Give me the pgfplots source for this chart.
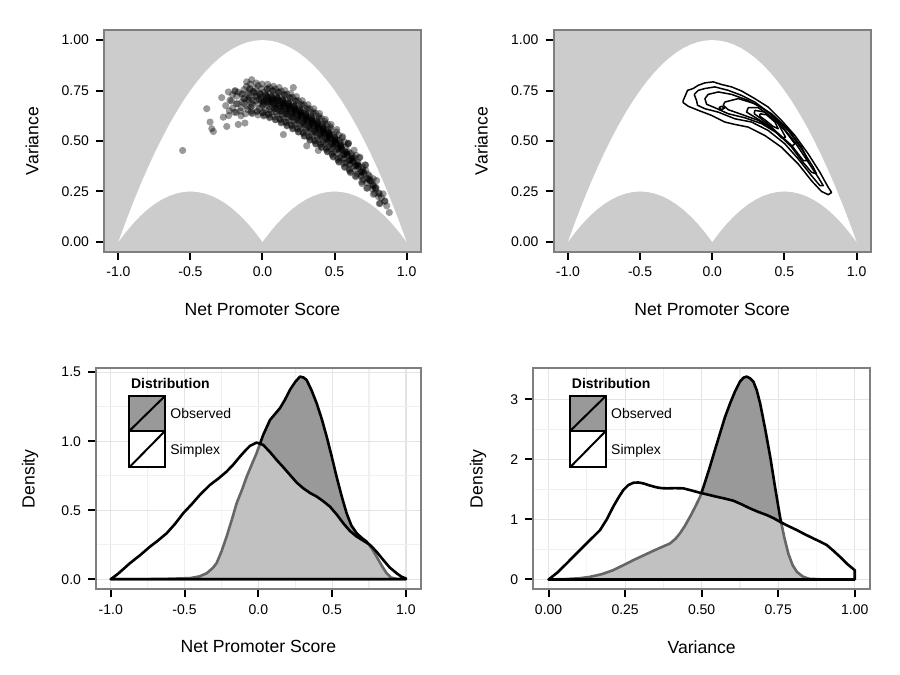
\documentclass[border=0pt]{standalone}
\usepackage{fontspec}
\setmainfont{Liberation Sans}
\usepackage{pgfplots}
\pgfplotsset{compat=1.18}
\definecolor{panelgray}{HTML}{CCCCCC}
\definecolor{bordergray}{HTML}{7F7F7F}
\definecolor{obsfill}{HTML}{999999}
\definecolor{gridmaj}{HTML}{E4E4E4}
\definecolor{gridmin}{HTML}{F0F0F0}
\pgfplotsset{
 myaxis/.style={
  scale only axis, anchor=south west,
  axis line style={draw=bordergray, line width=1pt},
  tick align=outside, tick pos=left,
  major tick length=4pt, minor tick length=0pt,
  every tick/.style={black, line width=1pt},
  tick label style={font=\fontsize{7}{8}\selectfont, text=black},
  label style={font=\fontsize{8.8}{10}\selectfont},
 },
 toppanel/.style={
  myaxis, width=158.5pt, height=111pt,
  xmin=-1.1, xmax=1.1, ymin=-0.05, ymax=1.05,
  axis background/.style={fill=panelgray},
  xtick={-1,-0.5,0,0.5,1}, xticklabels={-1.0,-0.5,0.0,0.5,1.0},
  ytick={0,0.25,0.5,0.75,1}, yticklabels={0.00,0.25,0.50,0.75,1.00},
  xlabel={Net Promoter Score}, ylabel={Variance},
  xlabel style={at={(axis description cs:0.5,-0.261)}, anchor=center},
  ylabel style={at={(axis description cs:-0.227,0.5)}, anchor=center},
 },
 botpanel/.style={
  myaxis, height=110.5pt,
  grid=both, major grid style={gridmaj, line width=0.6pt},
  minor grid style={gridmin, line width=0.6pt},
  minor tick num=1,
  ylabel={Density},
  xlabel style={at={(axis description cs:0.5,-0.261)}, anchor=center},
 },
 simplexregion/.style={fill=white, draw=none},
 dots/.style={only marks, mark=*, mark size=1.8pt, mark options={fill=black, fill opacity=0.4, draw opacity=0, line width=0pt}},
}
\newcommand{\simplexshape}{%
\addplot[simplexregion] coordinates {
(-1,0) (-0.95,0.0975) (-0.9,0.19) (-0.85,0.2775) (-0.8,0.36) (-0.75,0.4375) (-0.7,0.51) (-0.65,0.5775) (-0.6,0.64) (-0.55,0.6975) (-0.5,0.75) (-0.45,0.7975) (-0.4,0.84) (-0.35,0.8775) (-0.3,0.91) (-0.25,0.9375) (-0.2,0.96) (-0.15,0.9775) (-0.1,0.99) (-0.05,0.9975) (0,1) (0.05,0.9975) (0.1,0.99) (0.15,0.9775) (0.2,0.96) (0.25,0.9375) (0.3,0.91) (0.35,0.8775) (0.4,0.84) (0.45,0.7975) (0.5,0.75) (0.55,0.6975) (0.6,0.64) (0.65,0.5775) (0.7,0.51) (0.75,0.4375) (0.8,0.36) (0.85,0.2775) (0.9,0.19) (0.95,0.0975) (1,0)
(0.95,0.0475) (0.9,0.09) (0.85,0.1275) (0.8,0.16) (0.75,0.1875) (0.7,0.21) (0.65,0.2275) (0.6,0.24) (0.55,0.2475) (0.5,0.25) (0.45,0.2475) (0.4,0.24) (0.35,0.2275) (0.3,0.21) (0.25,0.1875) (0.2,0.16) (0.15,0.1275) (0.1,0.09) (0.05,0.0475) (0,0)
(-0.05,0.0475) (-0.1,0.09) (-0.15,0.1275) (-0.2,0.16) (-0.25,0.1875) (-0.3,0.21) (-0.35,0.2275) (-0.4,0.24) (-0.45,0.2475) (-0.5,0.25) (-0.55,0.2475) (-0.6,0.24) (-0.65,0.2275) (-0.7,0.21) (-0.75,0.1875) (-0.8,0.16) (-0.85,0.1275) (-0.9,0.09) (-0.95,0.0475) (-1,0)
};}
\begin{document}
\begin{tikzpicture}
\path[use as bounding box] (0,0) rectangle (450pt,337.5pt);
% ---------------- top left: scatter
\begin{axis}[toppanel, at={(52pt,211.5pt)}]
\simplexshape
\addplot[dots] coordinates {
(-0.230,0.650) (-0.255,0.675) (-0.235,0.626)
(-0.215,0.698) (-0.195,0.642) (-0.182,0.684) (-0.208,0.729)
(-0.155,0.649) (-0.142,0.694) (-0.168,0.742) (-0.147,0.665) (-0.179,0.722)
(-0.102,0.705) (-0.128,0.755) (-0.107,0.673) (-0.139,0.734) (-0.118,0.635) (-0.132,0.711)
(-0.088,0.760) (-0.067,0.678) (-0.099,0.739) (-0.078,0.640) (-0.092,0.716) (-0.064,0.701) (-0.084,0.782)
(-0.027,0.683) (-0.059,0.744) (-0.038,0.645) (-0.052,0.721) (-0.024,0.706) (-0.044,0.787) (-0.031,0.629) (-0.057,0.737)
(-0.019,0.739) (0.002,0.640) (-0.012,0.716) (0.016,0.701) (-0.004,0.782) (0.009,0.624) (-0.017,0.732) (0.007,0.687) (0.010,0.692)
(0.042,0.632) (0.028,0.711) (0.056,0.695) (0.036,0.781) (0.049,0.615) (0.023,0.729) (0.047,0.681) (0.050,0.686) (0.025,0.721) (0.045,0.654) (0.058,0.705) (0.032,0.758)
(0.068,0.701) (0.096,0.685) (0.076,0.771) (0.089,0.605) (0.063,0.719) (0.087,0.671) (0.090,0.676) (0.065,0.711) (0.085,0.644) (0.098,0.695) (0.072,0.748) (0.093,0.662)
(0.136,0.675) (0.116,0.765) (0.129,0.590) (0.103,0.710) (0.127,0.660) (0.130,0.665) (0.105,0.702) (0.125,0.632) (0.138,0.685) (0.112,0.741) (0.133,0.650) (0.101,0.718) (0.122,0.608)
(0.156,0.750) (0.169,0.575) (0.143,0.695) (0.167,0.645) (0.170,0.650) (0.145,0.687) (0.165,0.617) (0.178,0.670) (0.152,0.726) (0.173,0.635) (0.141,0.703) (0.162,0.593) (0.148,0.677) (0.176,0.660)
(0.209,0.560) (0.183,0.680) (0.207,0.630) (0.210,0.635) (0.185,0.672) (0.205,0.602) (0.218,0.655) (0.192,0.711) (0.213,0.620) (0.181,0.688) (0.202,0.578) (0.188,0.662) (0.216,0.645) (0.196,0.735)
(0.223,0.665) (0.247,0.615) (0.250,0.620) (0.225,0.657) (0.245,0.587) (0.258,0.640) (0.232,0.696) (0.253,0.605) (0.221,0.673) (0.242,0.563) (0.228,0.647) (0.256,0.630) (0.236,0.720) (0.249,0.545)
(0.287,0.595) (0.290,0.600) (0.265,0.637) (0.285,0.567) (0.298,0.620) (0.272,0.676) (0.293,0.585) (0.261,0.653) (0.282,0.543) (0.268,0.627) (0.296,0.610) (0.276,0.700) (0.289,0.525) (0.263,0.645)
(0.330,0.580) (0.305,0.617) (0.325,0.547) (0.338,0.600) (0.312,0.656) (0.333,0.565) (0.301,0.633) (0.322,0.523) (0.308,0.607) (0.336,0.590) (0.316,0.680) (0.329,0.505) (0.303,0.625) (0.327,0.575)
(0.345,0.597) (0.365,0.527) (0.378,0.580) (0.352,0.636) (0.373,0.545) (0.341,0.613) (0.362,0.503) (0.348,0.587) (0.376,0.570) (0.356,0.660) (0.369,0.485) (0.343,0.605) (0.367,0.555) (0.370,0.560)
(0.405,0.509) (0.418,0.560) (0.392,0.613) (0.413,0.527) (0.381,0.591) (0.402,0.487) (0.388,0.566) (0.416,0.550) (0.396,0.636) (0.409,0.470) (0.383,0.584) (0.407,0.536) (0.410,0.541) (0.385,0.576)
(0.458,0.535) (0.432,0.585) (0.453,0.503) (0.421,0.564) (0.442,0.465) (0.428,0.541) (0.456,0.526) (0.436,0.607) (0.449,0.449) (0.423,0.557) (0.447,0.512) (0.450,0.517) (0.425,0.550) (0.445,0.487)
(0.472,0.560) (0.493,0.478) (0.461,0.539) (0.482,0.440) (0.468,0.516) (0.496,0.500) (0.476,0.582) (0.489,0.424) (0.463,0.532) (0.487,0.487) (0.490,0.492) (0.465,0.525) (0.485,0.462)
(0.533,0.453) (0.501,0.514) (0.522,0.415) (0.508,0.491) (0.536,0.476) (0.516,0.557) (0.529,0.399) (0.503,0.507) (0.527,0.462) (0.530,0.467) (0.505,0.500) (0.525,0.437)
(0.541,0.482) (0.562,0.389) (0.548,0.460) (0.576,0.446) (0.556,0.522) (0.569,0.374) (0.543,0.476) (0.567,0.433) (0.570,0.437) (0.545,0.469) (0.565,0.409)
(0.602,0.362) (0.588,0.430) (0.616,0.416) (0.596,0.488) (0.609,0.348) (0.583,0.444) (0.607,0.404) (0.610,0.408) (0.585,0.438) (0.605,0.382)
(0.628,0.399) (0.656,0.386) (0.636,0.454) (0.649,0.323) (0.623,0.413) (0.647,0.375) (0.650,0.379) (0.625,0.407) (0.645,0.354)
(0.696,0.357) (0.676,0.420) (0.689,0.297) (0.663,0.381) (0.687,0.346) (0.690,0.350) (0.665,0.375) (0.685,0.326)
(0.716,0.380) (0.729,0.267) (0.703,0.345) (0.727,0.312) (0.730,0.315) (0.705,0.339) (0.725,0.294)
(0.769,0.236) (0.743,0.308) (0.767,0.278) (0.770,0.281) (0.745,0.303) (0.765,0.261)
(0.783,0.267) (0.807,0.239) (0.810,0.242) (0.785,0.262) (0.805,0.224)
(0.847,0.201) (0.850,0.203) (0.825,0.220)
(-0.554,0.453) (-0.387,0.660) (-0.352,0.561) (-0.341,0.547) (-0.364,0.594) (-0.283,0.715) (-0.248,0.572) (-0.272,0.618) (-0.168,0.582) (-0.122,0.589) (0.145,0.532) (0.307,0.476) (0.387,0.453) (0.596,0.489) (0.880,0.146) (0.862,0.179) (0.816,0.191) (-0.075,0.804) (-0.110,0.793) (0.214,0.765) (-0.237,0.743) (-0.190,0.750)
};
\addplot[dots] coordinates {
(-0.226,0.702) (-0.206,0.663)
(-0.191,0.746) (-0.172,0.685) (-0.182,0.642)
(-0.123,0.708) (-0.149,0.625) (-0.146,0.732) (-0.126,0.686)
(-0.097,0.727) (-0.081,0.669) (-0.111,0.770) (-0.092,0.703) (-0.102,0.656) (-0.088,0.755)
(-0.048,0.760) (-0.074,0.686) (-0.043,0.722) (-0.069,0.636) (-0.066,0.746) (-0.046,0.699) (-0.077,0.649)
(-0.006,0.699) (-0.037,0.649) (-0.017,0.732) (-0.001,0.674) (-0.031,0.775) (-0.012,0.708) (-0.022,0.661) (-0.008,0.760)
(0.028,0.703) (0.018,0.655) (0.032,0.757) (0.006,0.680) (0.037,0.717) (0.011,0.629) (0.014,0.742) (0.034,0.694) (0.003,0.642) (0.023,0.728)
(0.051,0.619) (0.054,0.735) (0.074,0.686) (0.043,0.632) (0.063,0.721) (0.079,0.659) (0.049,0.765) (0.068,0.695) (0.058,0.646) (0.072,0.750) (0.046,0.671) (0.077,0.709)
(0.119,0.648) (0.089,0.758) (0.108,0.685) (0.098,0.634) (0.112,0.742) (0.086,0.661) (0.117,0.700) (0.091,0.607) (0.094,0.726) (0.114,0.675) (0.083,0.620) (0.103,0.711)
(0.126,0.648) (0.157,0.688) (0.131,0.593) (0.134,0.715) (0.154,0.663) (0.123,0.607) (0.143,0.700) (0.159,0.635) (0.129,0.747) (0.148,0.673) (0.138,0.621) (0.152,0.731)
(0.163,0.592) (0.183,0.685) (0.199,0.620) (0.169,0.732) (0.188,0.658) (0.178,0.606) (0.192,0.716) (0.166,0.633) (0.197,0.673) (0.171,0.578) (0.174,0.700) (0.194,0.648)
(0.218,0.591) (0.232,0.701) (0.206,0.618) (0.237,0.658) (0.211,0.563) (0.214,0.685) (0.234,0.633) (0.203,0.577) (0.223,0.670) (0.239,0.605) (0.209,0.717) (0.228,0.643)
(0.254,0.667) (0.274,0.615) (0.243,0.559) (0.263,0.652) (0.279,0.587) (0.249,0.699) (0.268,0.625) (0.258,0.573) (0.272,0.683) (0.246,0.600) (0.277,0.640) (0.251,0.545)
(0.289,0.679) (0.308,0.605) (0.298,0.553) (0.312,0.663) (0.286,0.580) (0.317,0.620) (0.291,0.525) (0.294,0.647) (0.314,0.595) (0.283,0.539) (0.303,0.632) (0.319,0.567)
(0.357,0.600) (0.331,0.505) (0.334,0.627) (0.354,0.575) (0.323,0.519) (0.343,0.612) (0.359,0.547) (0.329,0.659) (0.348,0.585) (0.338,0.533) (0.352,0.643) (0.326,0.560)
(0.383,0.591) (0.399,0.528) (0.369,0.638) (0.388,0.565) (0.378,0.514) (0.392,0.622) (0.366,0.541) (0.397,0.580) (0.371,0.487) (0.374,0.606) (0.394,0.555) (0.363,0.500)
(0.432,0.597) (0.406,0.520) (0.437,0.557) (0.411,0.469) (0.414,0.582) (0.434,0.534) (0.403,0.482) (0.423,0.568) (0.439,0.508) (0.409,0.612) (0.428,0.543) (0.418,0.495)
(0.474,0.509) (0.443,0.459) (0.463,0.542) (0.479,0.484) (0.449,0.585) (0.468,0.518) (0.458,0.471) (0.472,0.570) (0.446,0.496) (0.477,0.532) (0.451,0.446) (0.454,0.556)
(0.508,0.493) (0.498,0.446) (0.512,0.545) (0.486,0.471) (0.517,0.507) (0.491,0.421) (0.494,0.531) (0.514,0.484) (0.483,0.434) (0.503,0.517) (0.519,0.459)
(0.531,0.395) (0.534,0.502) (0.554,0.456) (0.523,0.407) (0.543,0.489) (0.559,0.432) (0.529,0.530) (0.548,0.465) (0.538,0.419) (0.552,0.516)
(0.599,0.403) (0.569,0.496) (0.588,0.435) (0.578,0.392) (0.592,0.483) (0.566,0.414) (0.597,0.447) (0.571,0.369) (0.574,0.470)
(0.606,0.386) (0.637,0.417) (0.611,0.343) (0.614,0.438) (0.634,0.397) (0.603,0.354) (0.623,0.426) (0.639,0.375)
(0.643,0.327) (0.663,0.395) (0.679,0.347) (0.649,0.429) (0.668,0.375) (0.658,0.337) (0.672,0.417)
(0.698,0.308) (0.712,0.382) (0.686,0.326) (0.717,0.353) (0.691,0.289) (0.694,0.372)
(0.734,0.334) (0.754,0.302) (0.723,0.266) (0.743,0.325) (0.759,0.284)
(0.769,0.313) (0.788,0.270) (0.778,0.240) (0.792,0.304)
(0.837,0.238) (0.811,0.190)
};
\end{axis}
% ---------------- top right: contours
\begin{axis}[toppanel, at={(276.75pt,211.5pt)}, width=158.75pt]
\simplexshape
\addplot[black, line width=0.75pt, line join=round] coordinates {
(-0.201,0.701) (-0.171,0.751) (-0.132,0.760) (-0.097,0.776) (-0.051,0.788) (0.007,0.793) (0.064,0.780) (0.134,0.768) (0.203,0.748) (0.295,0.710) (0.388,0.668) (0.480,0.602) (0.573,0.527) (0.665,0.436) (0.746,0.345) (0.804,0.270) (0.827,0.245) (0.804,0.234) (0.757,0.250) (0.688,0.303) (0.596,0.386) (0.480,0.469) (0.365,0.527) (0.249,0.569) (0.157,0.582) (0.087,0.594) (-0.005,0.627) (-0.097,0.652) (-0.166,0.672) (-0.201,0.690) (-0.201,0.701)};
\addplot[black, line width=0.75pt, line join=round] coordinates {
(-0.125,0.731) (-0.097,0.751) (-0.051,0.760) (0.018,0.768) (0.111,0.751) (0.203,0.726) (0.295,0.693) (0.388,0.643) (0.480,0.577) (0.573,0.494) (0.665,0.395) (0.734,0.320) (0.769,0.279) (0.746,0.279) (0.688,0.328) (0.596,0.411) (0.503,0.486) (0.388,0.552) (0.272,0.594) (0.157,0.610) (0.042,0.643) (-0.051,0.660) (-0.102,0.677) (-0.109,0.701) (-0.125,0.731)};
\addplot[black, line width=0.75pt, line join=round] coordinates {
(-0.051,0.710) (-0.028,0.731) (0.042,0.743) (0.134,0.731) (0.249,0.701) (0.342,0.665) (0.434,0.618) (0.527,0.552) (0.619,0.461) (0.700,0.370) (0.723,0.337) (0.688,0.345) (0.619,0.403) (0.550,0.469) (0.457,0.536) (0.342,0.586) (0.226,0.615) (0.111,0.635) (0.018,0.665) (-0.039,0.682) (-0.051,0.710)};
\addplot[black, line width=0.75pt, line join=round] coordinates {
(0.087,0.693) (0.180,0.710) (0.295,0.685) (0.411,0.635) (0.527,0.557) (0.619,0.469) (0.665,0.403) (0.631,0.403) (0.550,0.478) (0.434,0.552) (0.319,0.602) (0.203,0.632) (0.111,0.655) (0.076,0.677) (0.087,0.693)};
\addplot[black, line width=0.75pt, line join=round] coordinates {
(0.249,0.665) (0.319,0.665) (0.411,0.618) (0.503,0.552) (0.573,0.486) (0.550,0.474) (0.480,0.519) (0.388,0.577) (0.295,0.618) (0.238,0.643) (0.249,0.665)};
\addplot[black, line width=0.75pt, line join=round] coordinates {
(0.295,0.652) (0.365,0.643) (0.457,0.586) (0.508,0.519) (0.480,0.515) (0.411,0.569) (0.330,0.615) (0.291,0.635) (0.295,0.652)};
\addplot[black, line width=0.75pt, line join=round] coordinates {
(0.330,0.635) (0.376,0.630) (0.434,0.594) (0.457,0.561) (0.422,0.572) (0.365,0.605) (0.330,0.622) (0.330,0.635)};
\addplot[black, line width=0.75pt, line join=round] coordinates {
(0.045,0.665) (0.064,0.672) (0.085,0.663) (0.064,0.655) (0.045,0.665)};
\end{axis}
% ---------------- bottom left: NPS density
\begin{axis}[botpanel, at={(48pt,42.9pt)}, width=162.35pt,
  xmin=-1.1, xmax=1.1, ymin=-0.0725, ymax=1.529,
  xtick={-1,-0.5,0,0.5,1}, xticklabels={-1.0,-0.5,0.0,0.5,1.0},
  ytick={0,0.5,1,1.5}, yticklabels={0.0,0.5,1.0,1.5},
  xlabel={Net Promoter Score},
  ylabel style={at={(axis description cs:-0.203,0.5)}, anchor=center}]
\addplot[fill=obsfill, draw=black, line width=1.3pt, line join=round] coordinates {
(-1,0) (-0.8,0) (-0.6,0.003) (-0.46,0.008) (-0.4,0.02) (-0.35,0.043) (-0.31,0.08) (-0.283,0.116) (-0.25,0.2) (-0.215,0.309) (-0.18,0.43) (-0.147,0.551) (-0.11,0.65) (-0.079,0.743) (-0.045,0.83) (-0.012,0.913) (0.033,1.046) (0.079,1.154) (0.146,1.239) (0.18,1.30) (0.214,1.372) (0.25,1.43) (0.282,1.468) (0.305,1.462) (0.327,1.444) (0.36,1.37) (0.395,1.275) (0.43,1.16) (0.463,1.033) (0.497,0.89) (0.53,0.743) (0.565,0.60) (0.598,0.478) (0.63,0.39) (0.666,0.333) (0.70,0.30) (0.734,0.272) (0.77,0.22) (0.801,0.164) (0.835,0.10) (0.869,0.043) (0.9,0.012) (0.937,0.002) (1,0)} \closedcycle;
\addplot[fill=white, fill opacity=0.4, draw=black, line width=1.3pt, line join=round] coordinates {
(-1,0) (-0.95,0.04) (-0.87,0.116) (-0.80,0.175) (-0.734,0.236) (-0.68,0.28) (-0.621,0.333) (-0.565,0.40) (-0.509,0.478) (-0.45,0.545) (-0.396,0.611) (-0.328,0.683) (-0.27,0.73) (-0.215,0.78) (-0.17,0.83) (-0.125,0.888) (-0.09,0.93) (-0.057,0.966) (-0.012,0.99) (0.033,0.973) (0.08,0.92) (0.124,0.864) (0.17,0.81) (0.214,0.756) (0.26,0.70) (0.304,0.659) (0.35,0.625) (0.395,0.599) (0.44,0.565) (0.485,0.526) (0.53,0.47) (0.575,0.406) (0.62,0.35) (0.666,0.309) (0.71,0.28) (0.756,0.249) (0.80,0.20) (0.846,0.14) (0.89,0.085) (0.937,0.043) (0.97,0.018) (1,0.005)} \closedcycle;
\end{axis}
% ---------------- bottom right: variance density
\begin{axis}[botpanel, at={(266.65pt,42.9pt)}, width=168.35pt,
  xmin=-0.05, xmax=1.05, ymin=-0.162, ymax=3.517,
  xtick={0,0.25,0.5,0.75,1}, xticklabels={0.00,0.25,0.50,0.75,1.00},
  ytick={0,1,2,3}, yticklabels={0,1,2,3},
  xlabel={Variance},
  ylabel style={at={(axis description cs:-0.164,0.5)}, anchor=center}]
\addplot[fill=obsfill, draw=black, line width=1.3pt, line join=round] coordinates {
(0,0) (0.05,0.005) (0.1,0.02) (0.135,0.043) (0.175,0.09) (0.211,0.155) (0.245,0.24) (0.277,0.322) (0.31,0.40) (0.342,0.477) (0.37,0.54) (0.397,0.6) (0.415,0.68) (0.429,0.767) (0.445,0.89) (0.462,1.043) (0.478,1.2) (0.495,1.377) (0.511,1.62) (0.527,1.877) (0.543,2.15) (0.56,2.433) (0.576,2.70) (0.593,2.933) (0.609,3.13) (0.625,3.293) (0.637,3.36) (0.647,3.377) (0.658,3.35) (0.669,3.293) (0.68,3.15) (0.691,2.933) (0.707,2.52) (0.724,2.043) (0.74,1.53) (0.756,1.043) (0.77,0.70) (0.783,0.433) (0.797,0.24) (0.811,0.127) (0.83,0.05) (0.85,0.012) (0.9,0) (1,0)} \closedcycle;
\addplot[fill=white, fill opacity=0.4, draw=black, line width=1.3pt, line join=round] coordinates {
(0,0) (0.03,0.12) (0.059,0.267) (0.085,0.40) (0.113,0.543) (0.14,0.68) (0.168,0.822) (0.19,1.0) (0.211,1.21) (0.228,1.36) (0.244,1.488) (0.26,1.57) (0.277,1.61) (0.293,1.615) (0.309,1.6) (0.33,1.565) (0.353,1.533) (0.37,1.52) (0.386,1.517) (0.413,1.52) (0.44,1.517) (0.468,1.48) (0.495,1.443) (0.522,1.41) (0.549,1.377) (0.577,1.345) (0.604,1.31) (0.631,1.25) (0.658,1.183) (0.685,1.125) (0.713,1.072) (0.735,1.02) (0.756,0.96) (0.783,0.89) (0.811,0.822) (0.838,0.75) (0.865,0.683) (0.887,0.63) (0.909,0.572) (0.93,0.48) (0.952,0.377) (0.975,0.26) (1,0.155)} \closedcycle;
\end{axis}
% ---------------- legends
\foreach \dx in {0pt,220.4pt}{
\begin{scope}[xshift=\dx]
\node[anchor=west, inner sep=0pt, font=\bfseries\fontsize{7}{8}\selectfont] at (65.35pt,145.85pt) {Distribution};
\draw[fill=obsfill, line width=1pt] (64.65pt,122pt) rectangle (82.5pt,139.5pt);
\draw[line width=1pt] (64.65pt,122pt) -- (82.5pt,139.5pt);
\draw[fill=white, line width=1pt] (64.65pt,103.85pt) rectangle (82.5pt,122pt);
\draw[line width=1pt] (64.65pt,103.85pt) -- (82.5pt,122pt);
\node[anchor=west, inner sep=0pt, font=\fontsize{7}{8}\selectfont] at (85pt,131pt) {Observed};
\node[anchor=west, inner sep=0pt, font=\fontsize{7}{8}\selectfont] at (85pt,112.15pt) {Simplex};
\end{scope}}
\end{tikzpicture}
\end{document}
